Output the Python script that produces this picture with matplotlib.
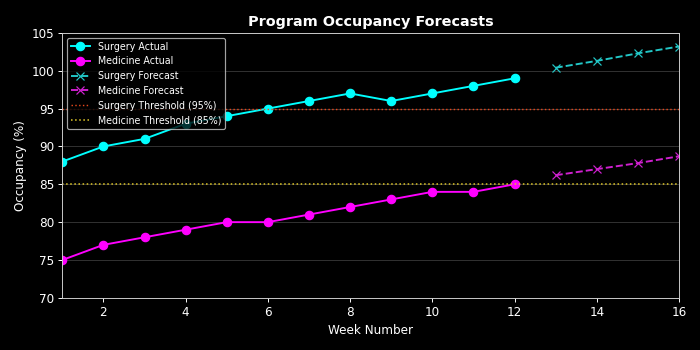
import matplotlib
matplotlib.use("Agg")
import matplotlib.pyplot as plt

# ── data ──────────────────────────────────────
weeks_actual = list(range(1, 13))
surgery_actual = [88, 90, 91, 93, 94, 95, 96, 97, 96, 97, 98, 99]
medicine_actual = [75, 77, 78, 79, 80, 80, 81, 82, 83, 84, 84, 85]

weeks_forecast = [13, 14, 15, 16]
surgery_forecast = [100.4, 101.3, 102.3, 103.2]
medicine_forecast = [86.2, 87.0, 87.8, 88.7]

surgery_threshold = 95
medicine_threshold = 85

plt.style.use("dark_background")
# 700x350 px at dpi 86
fig, ax = plt.subplots(figsize=(8.14, 4.07), dpi=86)
fig.patch.set_facecolor("black")
ax.set_facecolor("black")

ax.plot(weeks_actual, surgery_actual, color="cyan", marker="o",
        linewidth=1.6, markersize=7, label="Surgery Actual")
ax.plot(weeks_actual, medicine_actual, color="magenta", marker="o",
        linewidth=1.6, markersize=7, label="Medicine Actual")
ax.plot(weeks_forecast, surgery_forecast, color="#22c8c8", marker="x",
        linestyle="--", linewidth=1.6, markersize=7, label="Surgery Forecast")
ax.plot(weeks_forecast, medicine_forecast, color="#d020d0", marker="x",
        linestyle="--", linewidth=1.6, markersize=7, label="Medicine Forecast")
ax.axhline(surgery_threshold, color="#e8481c", linestyle=":", linewidth=1.2,
           label="Surgery Threshold (95%)")
ax.axhline(medicine_threshold, color="#dcc428", linestyle=":", linewidth=1.3,
           label="Medicine Threshold (85%)")

ax.set_xlim(1, 16)
ax.set_ylim(70, 105)
ax.set_xticks([2, 4, 6, 8, 10, 12, 14, 16])
ax.tick_params(labelsize=10)
ax.grid(axis="y", color="#333333", linewidth=0.8)
ax.set_axisbelow(True)

ax.set_title("Program Occupancy Forecasts", fontsize=12, fontweight="bold")
ax.set_xlabel("Week Number", fontsize=10)
ax.set_ylabel("Occupancy (%)", fontsize=10)
for spine in ax.spines.values():
    spine.set_edgecolor("#cccccc")

ax.legend(loc="upper left", fontsize=8, facecolor="black",
          edgecolor="#cccccc", framealpha=0.8)

fig.subplots_adjust(left=0.089, right=0.970, top=0.906, bottom=0.149)
fig.savefig("out.png", dpi=86, facecolor=fig.get_facecolor())
